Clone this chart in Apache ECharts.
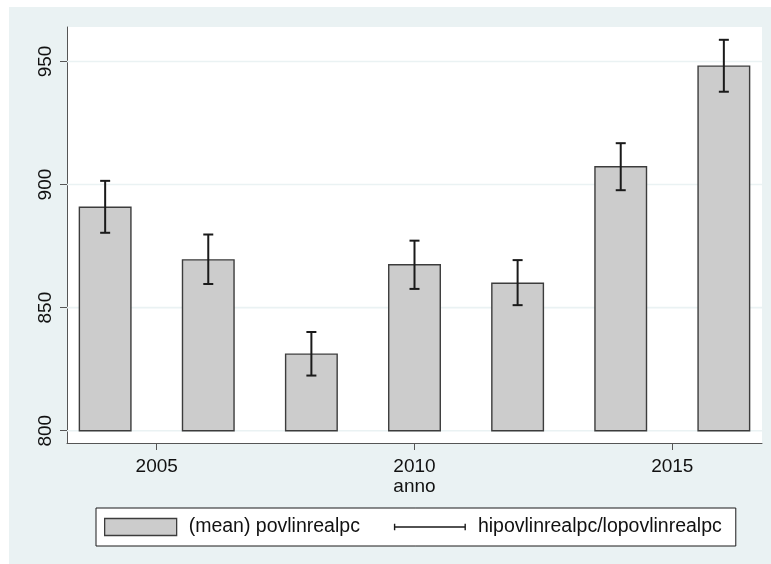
<!DOCTYPE html>
<html>
<head>
<meta charset="utf-8">
<script src="https://cdn.jsdelivr.net/npm/echarts@6/dist/echarts.min.js"></script>
<style>
  html, body { margin: 0; padding: 0; background: #ffffff; }
  #chart { width: 771px; height: 564px; }
</style>
</head>
<body>
<div id="chart"></div>
<script>
// Mean poverty line (real, per capita) by survey year, with upper/lower bounds
const years = [2004, 2006, 2008, 2010, 2012, 2014, 2016];
const meanValues = [890.8, 869.4, 831.1, 867.4, 859.9, 907.2, 948.1];
const hiValues = [901.5, 879.7, 840.1, 877.2, 869.3, 916.8, 958.8];
const loValues = [880.4, 859.6, 822.4, 857.6, 851.0, 897.7, 937.7];
const xTicks = [2005, 2010, 2015];
const yTicks = [800, 850, 900, 950];
const barBase = 800;

const FONT = '"Liberation Sans", Arial, Helvetica, sans-serif';
const AXIS_COLOR = '#555555';
const TEXT_COLOR = '#111111';
const BG_COLOR = '#eaf2f3';

const meanName = '(mean) povlinrealpc';
const rangeName = 'hipovlinrealpc/lopovlinrealpc';

// legend glyph for the range series: a horizontal line with end caps
const rangeIcon = 'path://M0,0h0.01v0.01h-0.01z M72,17h-0.01v-0.01h0.01z ' +
  'M0,5.2h1.4v6.6h-1.4z M0,7.85h72v1.3h-72z M70.6,5.2h1.4v6.6h-1.4z';

const chart = echarts.init(document.getElementById('chart'), null, { renderer: 'canvas' });

chart.setOption({
  animation: false,
  textStyle: { fontFamily: FONT },
  graphic: [{
    type: 'rect',
    z: -100,
    silent: true,
    shape: { x: 9, y: 7, width: 762, height: 557 },
    style: { fill: BG_COLOR }
  }],
  grid: {
    left: 67, right: 9, top: 27, bottom: 121,
    show: true, backgroundColor: '#ffffff', borderWidth: 0,
    outerBoundsMode: 'none'
  },
  legend: {
    left: 96, top: 508,
    orient: 'horizontal',
    backgroundColor: '#ffffff',
    borderColor: '#1a1a1a', borderWidth: 1, borderRadius: 0,
    padding: [9, 14, 9, 8],
    itemWidth: 72, itemHeight: 17, itemGap: 34,
    selectedMode: false,
    textStyle: { fontSize: 19.5, color: TEXT_COLOR, fontFamily: FONT, padding: [0, 0, 0, 7] },
    data: [
      { name: meanName, icon: 'rect',
        itemStyle: { color: '#cccccc', borderColor: '#3c3c3c', borderWidth: 1.3 } },
      { name: rangeName, icon: rangeIcon,
        itemStyle: { color: '#1a1a1a', borderWidth: 0 } }
    ]
  },
  xAxis: {
    type: 'value',
    min: 2003.26, max: 2016.74,
    name: 'anno', nameLocation: 'middle', nameGap: 34, nameMoveOverlap: false,
    nameTextStyle: { fontSize: 19, color: TEXT_COLOR, fontFamily: FONT },
    axisLine: { show: true, onZero: false, lineStyle: { color: AXIS_COLOR, width: 1 } },
    axisTick: { show: true, customValues: xTicks, length: 7, lineStyle: { color: AXIS_COLOR, width: 1 } },
    axisLabel: { customValues: xTicks, margin: 14, fontSize: 19, color: TEXT_COLOR, fontFamily: FONT,
      formatter: v => String(v) },
    splitLine: { show: false }
  },
  yAxis: {
    type: 'value',
    min: 795, max: 964,
    axisLine: { show: true, onZero: false, lineStyle: { color: AXIS_COLOR, width: 1 } },
    axisTick: { show: true, customValues: yTicks, length: 7, lineStyle: { color: AXIS_COLOR, width: 1 } },
    axisLabel: { customValues: yTicks, rotate: 90, margin: 12, fontSize: 19, color: TEXT_COLOR, fontFamily: FONT,
      formatter: v => String(v) },
    splitLine: { show: false }
  },
  series: [
    {
      // horizontal grid lines at the y tick values
      type: 'custom',
      name: 'grid',
      z: 1,
      silent: true,
      data: yTicks.map(v => [v]),
      encode: { y: 0 },
      renderItem(params, api) {
        const cs = params.coordSys;
        const y = api.coord([2010, api.value(0)])[1];
        return {
          type: 'line',
          shape: { x1: cs.x, y1: y, x2: cs.x + cs.width, y2: y },
          style: { stroke: BG_COLOR, lineWidth: 1.6 }
        };
      }
    },
    {
      type: 'custom',
      name: meanName,
      z: 2,
      data: years.map((yr, i) => [yr, meanValues[i]]),
      encode: { x: 0, y: 1 },
      itemStyle: { color: '#cccccc' },
      renderItem(params, api) {
        const x = api.value(0), v = api.value(1);
        const tl = api.coord([x - 0.5, v]);
        const br = api.coord([x + 0.5, barBase]);
        return {
          type: 'rect',
          shape: { x: tl[0], y: tl[1], width: br[0] - tl[0], height: br[1] - tl[1] },
          style: { fill: '#cccccc', stroke: '#3c3c3c', lineWidth: 1.4 }
        };
      }
    },
    {
      type: 'custom',
      name: rangeName,
      z: 3,
      data: years.map((yr, i) => [yr, hiValues[i], loValues[i]]),
      encode: { x: 0, y: [1, 2] },
      itemStyle: { color: '#1a1a1a' },
      renderItem(params, api) {
        const x = api.value(0);
        const hi = api.coord([x, api.value(1)]);
        const lo = api.coord([x, api.value(2)]);
        const hw = 5;
        const st = { stroke: '#1a1a1a', lineWidth: 2 };
        return {
          type: 'group',
          children: [
            { type: 'line', shape: { x1: hi[0], y1: hi[1], x2: lo[0], y2: lo[1] }, style: st },
            { type: 'line', shape: { x1: hi[0] - hw, y1: hi[1], x2: hi[0] + hw, y2: hi[1] }, style: st },
            { type: 'line', shape: { x1: lo[0] - hw, y1: lo[1], x2: lo[0] + hw, y2: lo[1] }, style: st }
          ]
        };
      }
    }
  ]
});
</script>
</body>
</html>
